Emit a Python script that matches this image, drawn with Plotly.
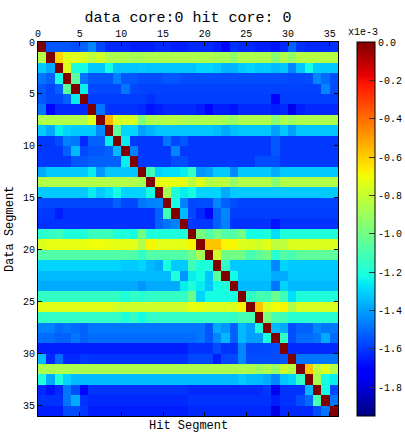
import numpy as np
import plotly.graph_objects as go

segments = list(range(36))
x_ticks = [0, 5, 10, 15, 20, 25, 30, 35]
y_ticks = [0, 5, 10, 15, 20, 25, 30, 35]
cbar_vals = [0.0, -0.2, -0.4, -0.6, -0.8, -1.0, -1.2, -1.4, -1.6, -1.8]
cbar_text = ["0.0", "-0.2", "-0.4", "-0.6", "-0.8", "-1.0", "-1.2", "-1.4", "-1.6", "-1.8"]
z_min, z_max = -1.95, 0.0

# values in units of 1e-3 ; rows = Data Segment, columns = Hit Segment
z_rows = [
 [0,-1.54,-1.54,-1.54,-1.56,-1.52,-1.45,-1.57,-1.63,-1.63,-1.63,-1.65,-1.65,-1.65,-1.63,-1.63,-1.65,-1.65,-1.63,-1.63,-1.63,-1.65,-1.7,-1.61,-1.63,-1.63,-1.65,-1.65,-1.67,-1.63,-1.52,-1.61,-1.63,-1.63,-1.63,-1.61],
 [-0.85,0,-0.62,-0.74,-0.74,-0.76,-0.82,-0.78,-0.86,-0.86,-0.86,-0.88,-0.88,-0.86,-0.86,-0.86,-0.86,-0.86,-0.86,-0.86,-0.86,-0.88,-0.88,-0.93,-0.86,-0.86,-0.86,-0.86,-0.95,-0.86,-0.92,-0.84,-0.84,-0.84,-0.84,-0.84],
 [-1.32,-1.38,0,-0.75,-1.2,-1.22,-1.32,-1.32,-1.22,-1.33,-1.33,-1.33,-1.32,-1.33,-1.33,-1.33,-1.33,-1.33,-1.33,-1.3,-1.3,-1.32,-1.36,-1.36,-1.32,-1.3,-1.32,-1.32,-1.35,-1.33,-1.45,-1.33,-1.22,-1.32,-1.32,-1.32],
 [-1.48,-1.52,-1.22,0,-1.05,-1.48,-1.54,-1.54,-1.54,-1.46,-1.54,-1.54,-1.56,-1.56,-1.56,-1.54,-1.54,-1.56,-1.56,-1.56,-1.56,-1.56,-1.56,-1.56,-1.56,-1.56,-1.56,-1.56,-1.56,-1.56,-1.57,-1.57,-1.56,-1.45,-1.5,-1.56],
 [-1.54,-1.57,-1.52,-1.05,0,-1.25,-1.57,-1.57,-1.57,-1.57,-1.48,-1.57,-1.58,-1.58,-1.58,-1.58,-1.58,-1.58,-1.58,-1.58,-1.58,-1.58,-1.58,-1.58,-1.58,-1.58,-1.58,-1.58,-1.58,-1.58,-1.58,-1.58,-1.58,-1.58,-1.45,-1.56],
 [-1.54,-1.57,-1.57,-1.52,-1.25,0,-1.59,-1.59,-1.59,-1.59,-1.59,-1.59,-1.59,-1.61,-1.59,-1.59,-1.59,-1.59,-1.59,-1.59,-1.59,-1.59,-1.59,-1.59,-1.59,-1.59,-1.59,-1.59,-1.7,-1.59,-1.59,-1.59,-1.59,-1.59,-1.59,-1.59],
 [-1.48,-1.7,-1.63,-1.63,-1.63,-1.63,0,-1.48,-1.61,-1.61,-1.61,-1.61,-1.63,-1.67,-1.65,-1.63,-1.63,-1.63,-1.63,-1.65,-1.7,-1.65,-1.65,-1.67,-1.63,-1.63,-1.63,-1.63,-1.65,-1.63,-1.76,-1.65,-1.63,-1.63,-1.63,-1.63],
 [-0.85,-0.85,-0.85,-0.85,-0.85,-0.85,-0.74,0,-0.55,-0.76,-0.76,-0.76,-0.97,-0.86,-0.86,-0.84,-0.84,-0.86,-0.86,-0.86,-0.86,-0.86,-0.88,-0.92,-0.86,-0.86,-0.86,-0.86,-0.96,-0.86,-0.9,-0.86,-0.86,-0.86,-0.86,-0.86],
 [-1.32,-1.38,-1.25,-1.3,-1.32,-1.32,-1.32,-1.45,0,-1.05,-1.3,-1.3,-1.4,-1.36,-1.33,-1.33,-1.33,-1.33,-1.33,-1.33,-1.33,-1.34,-1.38,-1.34,-1.33,-1.33,-1.33,-1.33,-1.4,-1.33,-1.4,-1.33,-1.33,-1.33,-1.33,-1.33],
 [-1.6,-1.6,-1.56,-1.46,-1.48,-1.63,-1.52,-1.52,-1.25,0,-1.25,-1.6,-1.6,-1.6,-1.6,-1.48,-1.57,-1.54,-1.6,-1.6,-1.6,-1.6,-1.6,-1.6,-1.6,-1.6,-1.6,-1.6,-1.54,-1.6,-1.6,-1.6,-1.6,-1.6,-1.6,-1.6],
 [-1.6,-1.6,-1.6,-1.52,-1.35,-1.57,-1.54,-1.54,-1.52,-1.35,0,-1.46,-1.6,-1.6,-1.6,-1.6,-1.45,-1.6,-1.6,-1.6,-1.6,-1.6,-1.6,-1.6,-1.6,-1.6,-1.6,-1.6,-1.54,-1.6,-1.6,-1.6,-1.6,-1.6,-1.6,-1.6],
 [-1.6,-1.6,-1.6,-1.6,-1.54,-1.54,-1.52,-1.52,-1.52,-1.52,-1.25,0,-1.6,-1.6,-1.6,-1.6,-1.56,-1.56,-1.6,-1.6,-1.6,-1.6,-1.6,-1.6,-1.6,-1.6,-1.56,-1.56,-1.56,-1.6,-1.6,-1.6,-1.6,-1.6,-1.6,-1.6],
 [-1.38,-1.32,-1.32,-1.32,-1.32,-1.32,-1.25,-1.42,-1.33,-1.33,-1.33,-1.33,0,-1.12,-1.3,-1.28,-1.28,-1.25,-1.15,-1.42,-1.4,-1.32,-1.32,-1.45,-1.32,-1.32,-1.32,-1.32,-1.38,-1.32,-1.32,-1.32,-1.32,-1.32,-1.32,-1.32],
 [-0.85,-0.85,-0.85,-0.85,-0.85,-0.85,-0.85,-0.85,-0.85,-0.85,-0.85,-0.85,-0.88,0,-0.72,-0.72,-0.72,-0.72,-0.83,-0.75,-0.85,-0.83,-0.83,-0.92,-0.85,-0.85,-0.85,-0.85,-0.95,-0.85,-0.85,-0.85,-0.85,-0.85,-0.85,-0.85],
 [-1.32,-1.32,-1.32,-1.32,-1.32,-1.32,-1.25,-1.32,-1.28,-1.22,-1.3,-1.3,-1.3,-1.22,0,-0.88,-1.2,-1.25,-1.22,-1.3,-1.3,-1.3,-1.38,-1.32,-1.32,-1.32,-1.32,-1.32,-1.32,-1.32,-1.32,-1.32,-1.32,-1.32,-1.32,-1.32],
 [-1.57,-1.57,-1.57,-1.57,-1.57,-1.57,-1.57,-1.57,-1.57,-1.52,-1.57,-1.57,-1.48,-1.46,-1.45,0,-1.22,-1.46,-1.57,-1.56,-1.56,-1.45,-1.52,-1.56,-1.58,-1.58,-1.58,-1.58,-1.58,-1.58,-1.58,-1.58,-1.58,-1.58,-1.58,-1.58],
 [-1.6,-1.6,-1.65,-1.61,-1.61,-1.61,-1.61,-1.61,-1.61,-1.61,-1.61,-1.61,-1.61,-1.61,-1.52,-1.12,0,-1.35,-1.57,-1.63,-1.7,-1.52,-1.45,-1.59,-1.59,-1.59,-1.59,-1.59,-1.59,-1.59,-1.59,-1.59,-1.59,-1.59,-1.59,-1.59],
 [-1.61,-1.61,-1.61,-1.61,-1.61,-1.61,-1.61,-1.61,-1.61,-1.61,-1.61,-1.61,-1.61,-1.61,-1.52,-1.48,-1.46,0,-1.6,-1.6,-1.6,-1.52,-1.46,-1.61,-1.61,-1.61,-1.61,-1.61,-1.67,-1.61,-1.61,-1.61,-1.61,-1.61,-1.61,-1.61],
 [-1.18,-1.15,-1.13,-1.2,-1.2,-1.2,-1.13,-1.13,-1.13,-1.2,-1.2,-1.22,-1.0,-1.2,-1.2,-1.2,-1.2,-1.2,0,-0.98,-1.08,-1.0,-1.08,-1.08,-1.0,-1.22,-1.22,-1.2,-1.28,-1.2,-1.2,-1.2,-1.2,-1.2,-1.2,-1.2],
 [-0.75,-0.72,-0.72,-0.72,-0.72,-0.72,-0.7,-0.7,-0.72,-0.72,-0.73,-0.73,-0.85,-0.68,-0.73,-0.73,-0.73,-0.73,-0.68,0,-0.58,-0.58,-0.68,-0.68,-0.75,-0.75,-0.78,-0.73,-0.82,-0.82,-0.75,-0.75,-0.75,-0.75,-0.75,-0.75],
 [-1.08,-1.08,-1.08,-1.08,-1.08,-1.08,-1.08,-1.08,-1.08,-1.08,-1.08,-1.08,-1.15,-1.08,-1.08,-1.08,-1.08,-1.08,-1.0,-0.88,0,-0.78,-1.0,-1.0,-1.0,-1.1,-1.05,-1.0,-1.18,-1.08,-1.1,-1.05,-1.05,-1.05,-1.05,-1.05],
 [-1.3,-1.3,-1.3,-1.3,-1.3,-1.3,-1.3,-1.3,-1.3,-1.3,-1.32,-1.32,-1.3,-1.35,-1.38,-1.22,-1.32,-1.32,-1.12,-1.2,-1.2,0,-1.15,-1.32,-1.32,-1.32,-1.32,-1.32,-1.45,-1.3,-1.32,-1.32,-1.32,-1.32,-1.32,-1.32],
 [-1.35,-1.35,-1.35,-1.35,-1.35,-1.35,-1.35,-1.35,-1.35,-1.35,-1.35,-1.35,-1.35,-1.35,-1.35,-1.35,-1.2,-1.42,-1.25,-1.22,-1.33,-1.05,0,-1.22,-1.33,-1.33,-1.33,-1.33,-1.38,-1.38,-1.33,-1.33,-1.33,-1.33,-1.33,-1.33],
 [-1.38,-1.38,-1.38,-1.38,-1.38,-1.38,-1.38,-1.38,-1.38,-1.38,-1.38,-1.38,-1.42,-1.38,-1.38,-1.38,-1.38,-1.25,-1.2,-1.25,-1.33,-1.22,-1.2,0,-1.35,-1.35,-1.35,-1.35,-1.48,-1.3,-1.35,-1.35,-1.35,-1.35,-1.35,-1.35],
 [-1.15,-1.15,-1.15,-1.15,-1.15,-1.15,-1.15,-1.15,-1.15,-1.15,-1.2,-1.15,-1.18,-1.15,-1.15,-1.15,-1.15,-1.15,-1.02,-1.3,-1.22,-1.22,-1.22,-1.22,0,-1.15,-1.1,-1.12,-1.02,-1.12,-1.28,-1.2,-1.2,-1.2,-1.2,-1.2],
 [-0.74,-0.74,-0.74,-0.74,-0.74,-0.74,-0.74,-0.74,-0.74,-0.78,-0.78,-0.78,-0.78,-0.78,-0.78,-0.78,-0.78,-0.78,-0.72,-0.72,-0.75,-0.75,-0.75,-0.75,-0.68,0,-0.58,-0.75,-0.7,-0.68,-0.85,-0.76,-0.76,-0.76,-0.76,-0.76],
 [-1.15,-1.15,-1.15,-1.15,-1.15,-1.15,-1.15,-1.15,-1.15,-1.15,-1.2,-1.15,-1.22,-1.15,-1.15,-1.15,-1.15,-1.15,-1.15,-1.15,-1.15,-1.15,-1.15,-1.15,-1.1,-1.1,0,-0.98,-1.1,-1.12,-1.18,-1.18,-1.18,-1.18,-1.18,-1.18],
 [-1.46,-1.46,-1.5,-1.48,-1.5,-1.52,-1.48,-1.48,-1.48,-1.48,-1.48,-1.48,-1.48,-1.48,-1.48,-1.48,-1.48,-1.48,-1.48,-1.48,-1.54,-1.38,-1.42,-1.52,-1.35,-1.4,-1.2,0,-1.35,-1.38,-1.56,-1.52,-1.52,-1.45,-1.48,-1.47],
 [-1.5,-1.5,-1.52,-1.52,-1.48,-1.52,-1.5,-1.5,-1.5,-1.5,-1.5,-1.5,-1.5,-1.5,-1.5,-1.5,-1.5,-1.5,-1.5,-1.48,-1.54,-1.45,-1.35,-1.52,-1.35,-1.4,-1.4,-1.2,0,-1.15,-1.56,-1.5,-1.5,-1.48,-1.38,-1.5],
 [-1.65,-1.65,-1.65,-1.65,-1.65,-1.65,-1.65,-1.65,-1.65,-1.65,-1.65,-1.65,-1.65,-1.65,-1.65,-1.65,-1.65,-1.65,-1.61,-1.61,-1.61,-1.56,-1.61,-1.61,-1.45,-1.57,-1.57,-1.57,-1.56,0,-1.63,-1.63,-1.63,-1.63,-1.63,-1.63],
 [-1.35,-1.63,-1.5,-1.63,-1.63,-1.6,-1.61,-1.61,-1.61,-1.61,-1.61,-1.61,-1.61,-1.61,-1.61,-1.61,-1.61,-1.61,-1.57,-1.57,-1.57,-1.65,-1.57,-1.57,-1.45,-1.56,-1.56,-1.56,-1.56,-1.54,0,-1.48,-1.48,-1.48,-1.48,-1.48],
 [-0.86,-0.86,-0.86,-0.86,-0.86,-0.86,-0.86,-0.86,-0.86,-0.86,-0.86,-0.86,-0.86,-0.86,-0.86,-0.86,-0.86,-0.86,-0.86,-0.86,-0.86,-0.86,-0.86,-0.86,-0.86,-0.86,-0.9,-0.86,-0.92,-0.78,-0.84,0,-0.58,-0.82,-0.74,-0.85],
 [-1.2,-1.38,-1.2,-1.3,-1.35,-1.35,-1.35,-1.35,-1.35,-1.35,-1.35,-1.35,-1.35,-1.35,-1.35,-1.35,-1.35,-1.35,-1.35,-1.35,-1.35,-1.35,-1.35,-1.35,-1.32,-1.35,-1.35,-1.38,-1.45,-1.33,-1.3,-1.15,0,-0.88,-1.22,-1.25],
 [-1.63,-1.67,-1.63,-1.48,-1.56,-1.7,-1.61,-1.61,-1.61,-1.61,-1.61,-1.61,-1.61,-1.61,-1.61,-1.61,-1.61,-1.61,-1.63,-1.63,-1.63,-1.63,-1.63,-1.63,-1.63,-1.63,-1.63,-1.6,-1.76,-1.61,-1.61,-1.61,-1.35,0,-1.22,-1.57],
 [-1.61,-1.61,-1.61,-1.48,-1.38,-1.61,-1.63,-1.63,-1.63,-1.63,-1.63,-1.63,-1.63,-1.63,-1.63,-1.63,-1.63,-1.63,-1.61,-1.61,-1.61,-1.61,-1.61,-1.61,-1.61,-1.61,-1.61,-1.61,-1.65,-1.61,-1.61,-1.56,-1.5,-1.1,0,-1.48],
 [-1.65,-1.65,-1.65,-1.56,-1.56,-1.6,-1.65,-1.65,-1.65,-1.65,-1.65,-1.65,-1.65,-1.65,-1.65,-1.65,-1.65,-1.65,-1.63,-1.63,-1.63,-1.63,-1.63,-1.63,-1.63,-1.63,-1.63,-1.63,-1.78,-1.63,-1.63,-1.63,-1.63,-1.56,-1.48,0],
]
for i, r in enumerate(z_rows):
    assert len(r) == 36, (i, len(r))

# matplotlib-style jet colormap
_jet_r = [(0, 0), (0.35, 0), (0.66, 1), (0.89, 1), (1, 0.5)]
_jet_g = [(0, 0), (0.125, 0), (0.375, 1), (0.64, 1), (0.91, 0), (1, 0)]
_jet_b = [(0, 0.5), (0.11, 1), (0.34, 1), (0.65, 0), (1, 0)]
stops = sorted(set([p for seg in (_jet_r, _jet_g, _jet_b) for p, _ in seg]))
def _ch(seg, t):
    return np.interp(t, [p for p, _ in seg], [v for _, v in seg])
jet = [[t, "rgb(%d,%d,%d)" % (round(255 * _ch(_jet_r, t)), round(255 * _ch(_jet_g, t)), round(255 * _ch(_jet_b, t)))] for t in stops]

mono = "Liberation Mono, Courier New, monospace"

fig = go.Figure(go.Heatmap(
    z=z_rows,
    x=[s + 0.5 for s in segments],
    y=[s + 0.5 for s in segments],
    colorscale=jet, zmin=z_min, zmax=z_max,
    colorbar=dict(
        x=1.063, xanchor="left", xpad=0, ypad=0,
        y=0.5, yanchor="middle", len=1, lenmode="fraction",
        thickness=18, outlinewidth=1, outlinecolor="black",
        ticks="inside", ticklen=6, tickcolor="#333",
        tickvals=cbar_vals, ticktext=cbar_text,
        tickfont=dict(family=mono, size=10, color="black"),
    ),
    hoverongaps=False,
))

axis_common = dict(
    ticks="inside", ticklen=4, tickcolor="black", showline=True, linecolor="black",
    linewidth=1, mirror="ticks", showgrid=False, zeroline=False,
    tickfont=dict(family=mono, size=10, color="black"),
)
fig.update_xaxes(range=[0, 36], tickvals=x_ticks, side="top", **axis_common)
fig.update_yaxes(range=[36, 0], tickvals=y_ticks, **axis_common)

fig.update_layout(
    width=405, height=434,
    margin=dict(l=38, r=67, t=42, b=18, autoexpand=False),
    paper_bgcolor="white", plot_bgcolor="white",
    title=dict(text="data core:0 hit core: 0", x=188 / 405, xanchor="center",
               y=1 - 17 / 434, yanchor="middle", yref="container",
               font=dict(family=mono, size=15, color="black")),
    annotations=[
        dict(text="Hit Segment", xref="paper", yref="paper", x=0.5, y=-0.004,
             xanchor="center", yanchor="top", showarrow=False,
             font=dict(family=mono, size=12, color="black")),
        dict(text="Data Segment", xref="paper", yref="paper", x=-0.093, y=0.5,
             xanchor="center", yanchor="middle", textangle=-90, showarrow=False,
             font=dict(family=mono, size=12, color="black")),
        dict(text="x1e-3", xref="paper", yref="paper", x=(363 - 38) / 300, y=1.0,
             xanchor="center", yanchor="bottom", showarrow=False, yshift=2,
             font=dict(family=mono, size=10, color="black")),
    ],
)

fig.write_html("out.html")
